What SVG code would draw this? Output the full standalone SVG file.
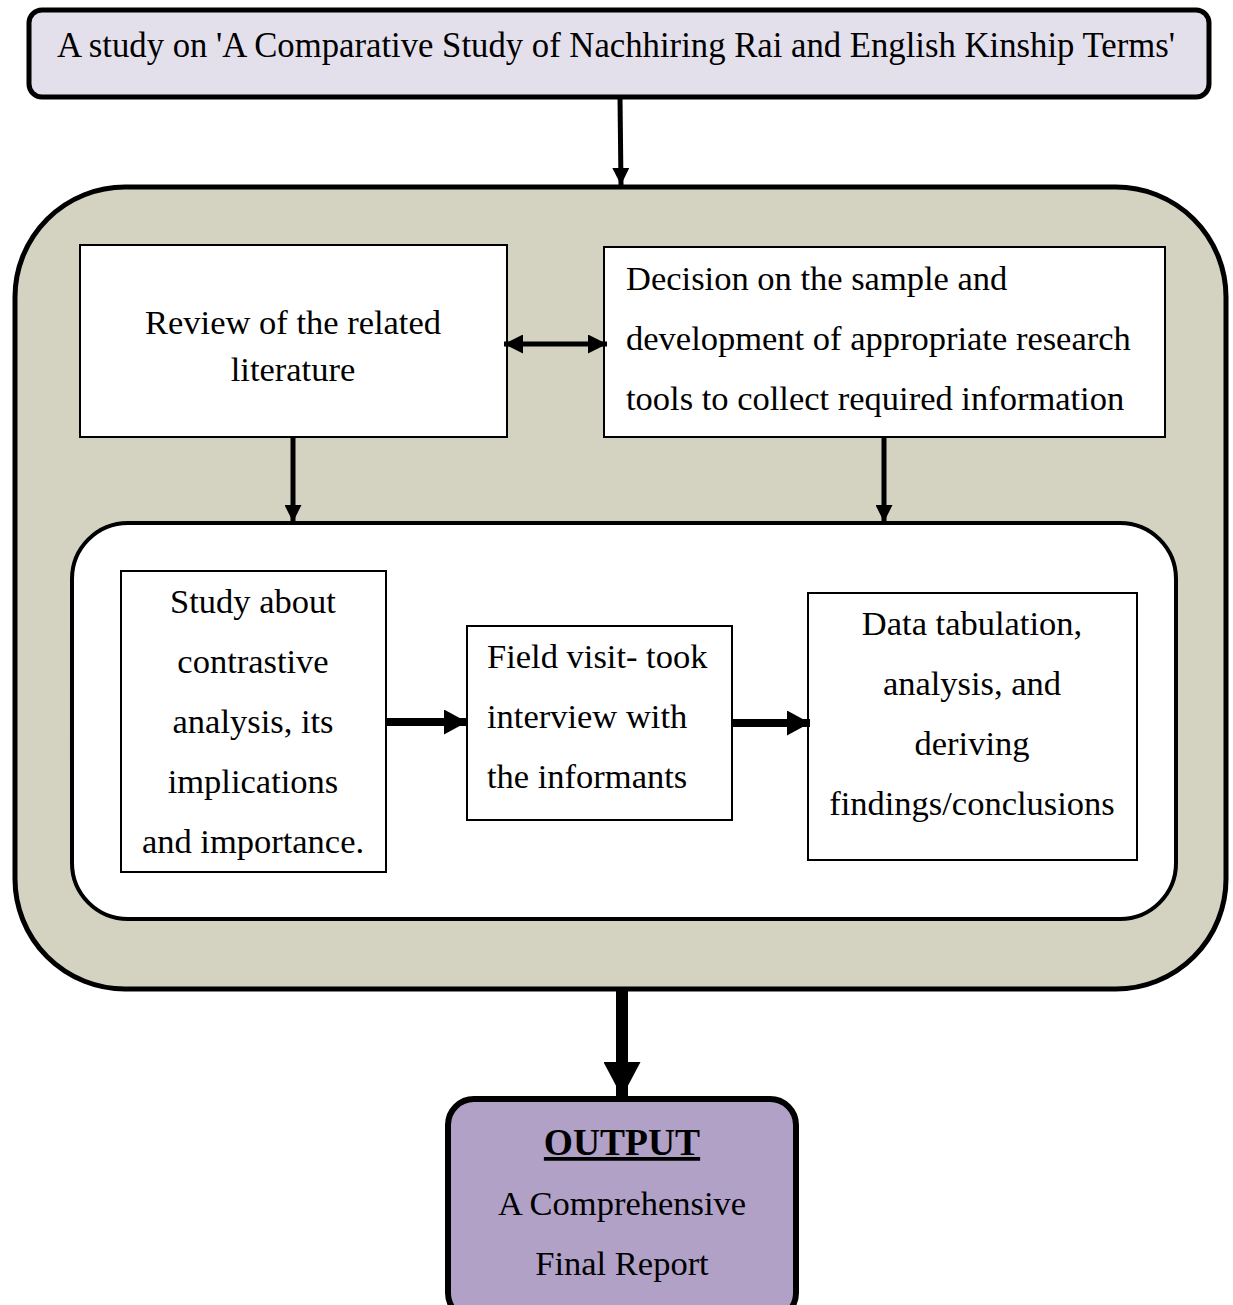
<svg xmlns="http://www.w3.org/2000/svg" width="1233" height="1305" viewBox="0 0 1233 1305">
  <style>
    .t { font-family: "Liberation Serif", "Times New Roman", serif; font-size: 34.5px; fill: #000; }
    .c { text-anchor: middle; }
    .box { fill: #fff; stroke: #000; stroke-width: 2; }
    .thin { stroke: #000; stroke-width: 5; fill: none; }
    .thick { stroke: #000; stroke-width: 8; fill: none; }
  </style>
  <defs>
    <!-- arrowheads sized in user units: tip sits on the line end -->
    <marker id="headS" viewBox="0 0 17 17" refX="17" refY="8.5" markerWidth="17" markerHeight="17" markerUnits="userSpaceOnUse" orient="auto">
      <path d="M0,0 L17,8.5 L0,17 z" fill="#000"/>
    </marker>
    <marker id="headD" viewBox="0 0 19 19" refX="19" refY="9.5" markerWidth="19" markerHeight="19" markerUnits="userSpaceOnUse" orient="auto-start-reverse">
      <path d="M0,0 L19,9.5 L0,19 z" fill="#000"/>
    </marker>
    <marker id="headL" viewBox="0 0 23 25" refX="23" refY="12.5" markerWidth="23" markerHeight="25" markerUnits="userSpaceOnUse" orient="auto">
      <path d="M0,0 L23,12.5 L0,25 z" fill="#000"/>
    </marker>
    <marker id="headXL" viewBox="0 0 35 37" refX="35" refY="18.5" markerWidth="35" markerHeight="37" markerUnits="userSpaceOnUse" orient="auto">
      <path d="M0,0 L35,18.5 L0,37 z" fill="#000"/>
    </marker>
  </defs>

  <!-- title -->
  <g id="title">
    <rect x="29" y="10" width="1180" height="87" rx="13" fill="#e3dfeb" stroke="#000" stroke-width="5"/>
    <text class="t" x="57" y="57" style="font-size:35.5px" textLength="1118" lengthAdjust="spacingAndGlyphs">A study on 'A Comparative Study of Nachhiring Rai and English Kinship Terms'</text>
  </g>

  <!-- outer process frame -->
  <g id="process">
    <rect x="15" y="187" width="1211" height="802" rx="110" fill="#d4d3c1" stroke="#000" stroke-width="5"/>
  </g>

  <g id="review">
    <rect class="box" x="80" y="245" width="427" height="192"/>
    <text class="t c" x="293" y="334">Review of the related</text>
    <text class="t c" x="293" y="381">literature</text>
  </g>

  <g id="decision">
    <rect class="box" x="604" y="247" width="561" height="190"/>
    <text class="t" x="626" y="290">Decision on the sample and</text>
    <text class="t" x="626" y="350">development of appropriate research</text>
    <text class="t" x="626" y="410">tools to collect required information</text>
  </g>

  <!-- fieldwork frame -->
  <g id="fieldwork">
    <rect x="72" y="523" width="1104" height="396" rx="56" fill="#fff" stroke="#000" stroke-width="4"/>
  </g>

  <g id="contrastive">
    <rect class="box" x="121" y="571" width="265" height="301"/>
    <text class="t c" x="253" y="613">Study about</text>
    <text class="t c" x="253" y="673">contrastive</text>
    <text class="t c" x="253" y="733">analysis, its</text>
    <text class="t c" x="253" y="793">implications</text>
    <text class="t c" x="253" y="853">and importance.</text>
  </g>

  <g id="fieldvisit">
    <rect class="box" x="467" y="626" width="265" height="194"/>
    <text class="t" x="487" y="668">Field visit- took</text>
    <text class="t" x="487" y="728">interview with</text>
    <text class="t" x="487" y="788">the informants</text>
  </g>

  <g id="analysis">
    <rect class="box" x="808" y="593" width="329" height="267"/>
    <text class="t c" x="972" y="635">Data tabulation,</text>
    <text class="t c" x="972" y="695">analysis, and</text>
    <text class="t c" x="972" y="755">deriving</text>
    <text class="t c" x="972" y="815">findings/conclusions</text>
  </g>

  <g id="output">
    <rect x="448" y="1099" width="348" height="220" rx="26" fill="#b1a1c7" stroke="#000" stroke-width="6"/>
    <text class="t c" x="622" y="1155" style="font-size:37.5px;font-weight:bold;text-decoration:underline">OUTPUT</text>
    <text class="t c" x="622" y="1215">A Comprehensive</text>
    <text class="t c" x="622" y="1275">Final Report</text>
  </g>

  <!-- connectors -->
  <g id="connectors">
    <line class="thin" x1="620" y1="97" x2="621" y2="185" marker-end="url(#headS)"/>
    <line class="thin" x1="504" y1="344" x2="607" y2="344" stroke-width="6" marker-start="url(#headD)" marker-end="url(#headD)"/>
    <line class="thin" x1="293" y1="437" x2="293" y2="522" marker-end="url(#headS)"/>
    <line class="thin" x1="884" y1="437" x2="884" y2="522" marker-end="url(#headS)"/>
    <line class="thick" x1="386" y1="722" x2="467" y2="722" marker-end="url(#headL)"/>
    <line class="thick" x1="732" y1="723" x2="810" y2="723" marker-end="url(#headL)"/>
    <line x1="622" y1="988" x2="622" y2="1097" stroke="#000" stroke-width="12" marker-end="url(#headXL)"/>
  </g>
</svg>
